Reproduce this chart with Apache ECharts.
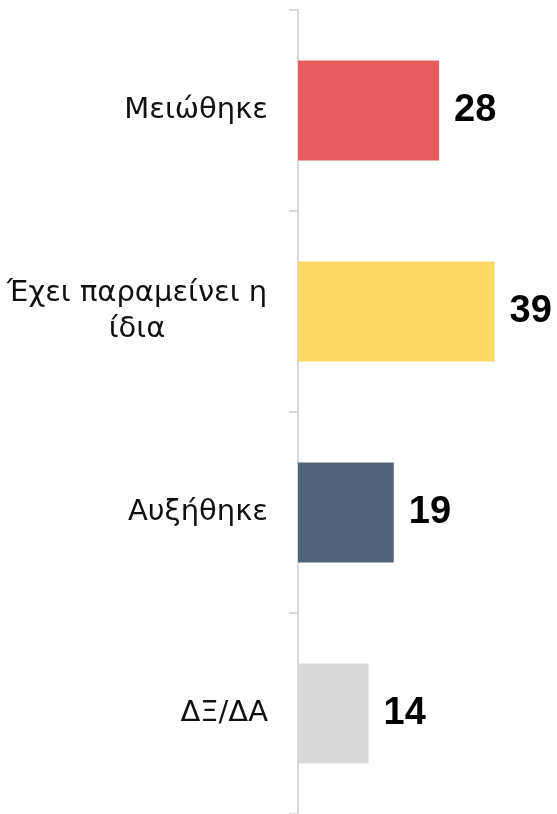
<!DOCTYPE html>
<html>
<head>
<meta charset="utf-8">
<script src="https://cdn.jsdelivr.net/npm/echarts@6/dist/echarts.min.js"></script>
<style>
html,body{margin:0;padding:0;background:#fff;}
#main{width:557px;height:814px;}
</style>
</head>
<body>
<div id="main"></div>
<script>
// κατηγορίες και τιμές
var categories = ['Μειώθηκε', 'Έχει παραμείνει η\nίδια', 'Αυξήθηκε', 'ΔΞ/ΔΑ'];
var values = [28, 39, 19, 14];
var barColors = ['#E85C60', '#FED966', '#546478', '#D9D9D9'];

/*画图*/
function paintForm(){
    var myChart = echarts.init(document.getElementById('main'));
    var data = [];
    for(var i=0;i<values.length;i++){
        data.push({value: values[i], itemStyle: {color: barColors[i]}});
    }
    var option = {
        animation: false,
        grid: {left: 298, right: 7, top: 10, bottom: -2},
        xAxis: {
            type: 'value',
            min: 0,
            max: 50,
            show: false
        },
        yAxis: {
            type: 'category',
            inverse: true,
            data: categories,
            axisLine: {show: true, lineStyle: {color: '#D9D9D9', width: 2}},
            axisTick: {show: true, alignWithLabel: false, length: 9, lineStyle: {color: '#D9D9D9', width: 2}},
            axisLabel: {
                margin: 30,
                color: '#111',
                fontFamily: 'DejaVu Sans',
                fontSize: 29,
                lineHeight: 36,
                formatter: function(v){
                    if(v.indexOf('\n') < 0) return v;
                    return v.split('\n').map(function(s){ return '{c|' + s + '}'; }).join('\n');
                },
                rich: {
                    c: {width: 262, align: 'center', fontFamily: 'DejaVu Sans', fontSize: 29, lineHeight: 36, color: '#111'}
                }
            }
        },
        series: [{
            type: 'bar',
            barWidth: 100,
            data: data,
            label: {
                show: true,
                position: 'right',
                distance: 15,
                color: '#000',
                fontFamily: 'Liberation Sans',
                fontWeight: 'bold',
                fontSize: 38
            }
        }]
    };
    myChart.setOption(option);
}

paintForm();
</script>
</body>
</html>
